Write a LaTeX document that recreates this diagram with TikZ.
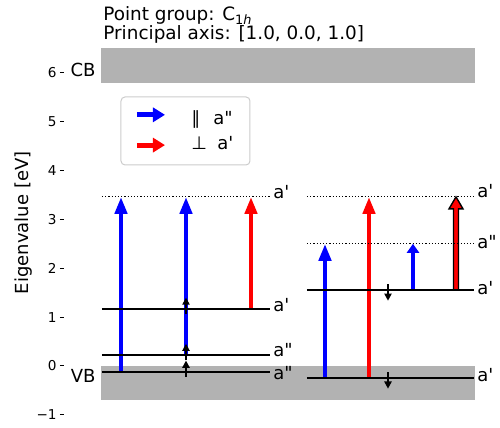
\documentclass[tikz,border=0pt]{standalone}
\usepackage{fontspec}
\setmainfont{DejaVu Sans}[Ligatures=TeXOff]
\usepackage{tikz}
\usetikzlibrary{arrows.meta}
\definecolor{bandgray}{RGB}{178,178,178}
\definecolor{legendedge}{RGB}{204,204,204}

\tikzset{
  level/.style={black, line width=0.75pt},
  virtual/.style={black, line width=0.6pt, dash pattern=on 0.6pt off 1pt},
  trans/.style={line width=2.2pt, -{Triangle[width=6pt,length=8.5pt]}},
  spin/.style={black, line width=1pt, -{Triangle[width=3.6pt,length=3.6pt]}},
  lbl/.style={anchor=west, inner sep=0pt, font=\fontsize{9}{11}\selectfont},
  ticklbl/.style={anchor=east, inner sep=0pt, font=\fontsize{6.8}{8}\selectfont},
}

\begin{document}
\begin{tikzpicture}[x=0.5pt, y=24.43pt]
    \useasboundingbox (0,-1.269) rectangle (500,7.49);

    % title
    \node[anchor=base west, inner sep=0pt, font=\fontsize{9.2}{11}\selectfont] (pgroup) at (103,7.07) {Point group: C\textsubscript{1\textit{h}}};
    \node[anchor=base west, inner sep=0pt, font=\fontsize{9.2}{11}\selectfont] (paxis) at (103,6.69) {Principal axis: [1.0, 0.0, 1.0]};

    % y axis
    \foreach \t/\lab in {-1/−1, 0/0, 1/1, 2/2, 3/3, 4/4, 5/5, 6/6} {
        \draw[black, line width=0.5pt] (60,\t) -- (64,\t);
        \node[ticklbl] at (57,\t) {\lab};
    }
    \node[rotate=90, inner sep=0pt, font=\fontsize{9}{11}\selectfont] (ylab) at (23.5,2.93) {Eigenvalue [eV]};

    % bands
    \fill[bandgray] (101,5.8) rectangle (475,6.5);
    \fill[bandgray] (101,-0.7) rectangle (475,0);
    \node[anchor=east, inner sep=0pt, font=\fontsize{9}{11}\selectfont] (cb) at (96,6.06) {CB};
    \node[anchor=east, inner sep=0pt, font=\fontsize{9}{11}\selectfont] (vb) at (96,-0.21) {VB};

    % legend
    \draw[legendedge, fill=white, line width=0.5pt, rounded corners=2pt] (121,4.114) rectangle (250,5.505);
    \draw[blue, line width=2.6pt, -{Triangle[width=7pt,length=6pt]}] (137,5.14) -- (165,5.14);
    \draw[red, line width=2.6pt, -{Triangle[width=7pt,length=6pt]}] (137,4.52) -- (165,4.52);
    \node[anchor=base west, inner sep=0pt, font=\fontsize{9}{11}\selectfont] (parsym) at (191,4.95) {∥};
    \node[anchor=base west, inner sep=0pt, font=\fontsize{9}{11}\selectfont] (partxt) at (213,4.95) {a"};
    \node[anchor=base west, inner sep=0pt, font=\fontsize{9}{11}\selectfont] (perpsym) at (191,4.435) {⊥};
    \node[anchor=base west, inner sep=0pt, font=\fontsize{9}{11}\selectfont] (perptxt) at (217,4.435) {a'};

    % transitions, left defect
    \draw[trans, blue] (121,-0.12) -- (121,3.46);
    \draw[trans, blue] (186,0.225) -- (186,3.46);
    \draw[trans, red] (251,1.17) -- (251,3.46);

    % transitions, right defect
    \draw[trans, blue] (325,-0.245) -- (325,2.50);
    \draw[trans, red] (369,-0.245) -- (369,3.46);
    \draw[line width=2.2pt, blue, -{Triangle[width=6pt,length=4.5pt]}] (413,1.555) -- (413,2.50);
    \filldraw[fill=red, draw=black, line width=0.7pt] (453.5,1.555) -- (453.5,3.215) -- (449,3.215)
        -- (456,3.46) -- (463,3.215) -- (458.5,3.215) -- (458.5,1.555) -- cycle;

    % levels, left
    \draw[virtual] (102,3.46) -- (270,3.46);
    \draw[level] (102,1.17) -- (270,1.17);
    \draw[level] (102,0.225) -- (270,0.225);
    \draw[level] (102,-0.12) -- (270,-0.12);
    \node[lbl] (l1) at (273,3.55) {a'};
    \node[lbl] (l2) at (273,1.25) {a'};
    \node[lbl] (l3) at (273,0.33) {a"};
    \node[lbl] (l4) at (273,-0.14) {a"};

    % levels, right
    \draw[virtual] (307,3.46) -- (474,3.46);
    \draw[virtual] (307,2.50) -- (474,2.50);
    \draw[level] (307,1.555) -- (474,1.555);
    \draw[level] (307,-0.245) -- (474,-0.245);
    \node[lbl] (r1) at (477,3.58) {a'};
    \node[lbl] (r2) at (477,2.54) {a"};
    \node[lbl] (r3) at (477,1.60) {a'};
    \node[lbl] (r4) at (477,-0.18) {a'};

    % spins
    \foreach \e in {1.17, 0.225, -0.12}
        \draw[spin] (186,\e-0.11) -- (186,\e+0.23);
    \foreach \e in {1.555, -0.245}
        \draw[spin] (388,\e+0.12) -- (388,\e-0.22);
\end{tikzpicture}
\end{document}
